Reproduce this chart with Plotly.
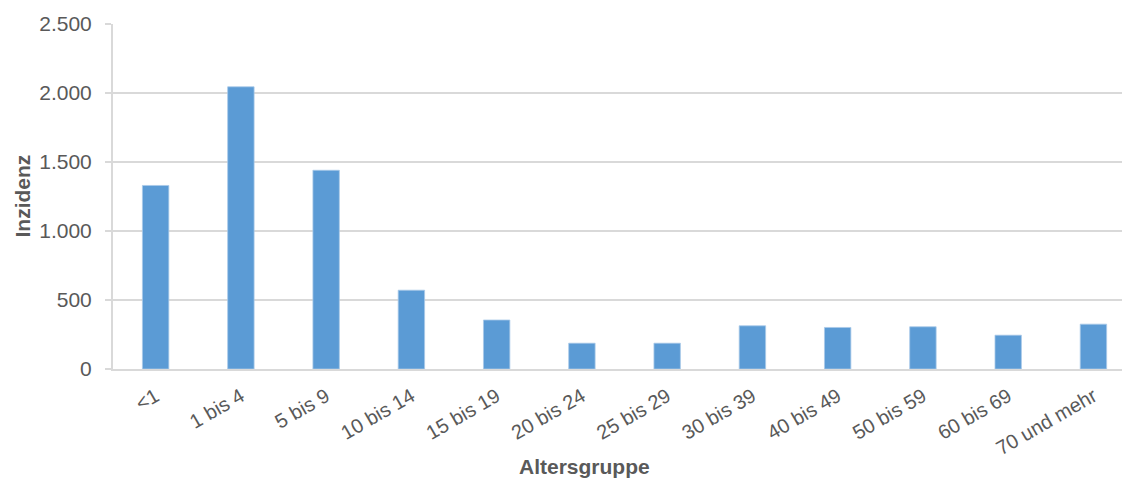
import plotly.graph_objects as go

# Altersgruppen und Inzidenz je Gruppe
altersgruppen = ["<1", "1 bis 4", "5 bis 9", "10 bis 14", "15 bis 19", "20 bis 24",
                 "25 bis 29", "30 bis 39", "40 bis 49", "50 bis 59", "60 bis 69", "70 und mehr"]
inzidenz = [1330, 2045, 1440, 571, 355, 187, 187, 313, 301, 306, 245, 325]
y_ticks = [0, 500, 1000, 1500, 2000, 2500]

text_grey = "#595959"
grid_grey = "#d9d9d9"
font_family = "Liberation Sans, Arial, sans-serif"

fig = go.Figure(
    go.Bar(
        x=altersgruppen,
        y=inzidenz,
        marker=dict(color="#5b9bd5", line=dict(color="#a9c9e8", width=0.8)),
    )
)

fig.update_layout(
    width=1124,
    height=481,
    margin=dict(l=113, r=2, t=24, b=112),
    plot_bgcolor="white",
    paper_bgcolor="white",
    separators=",.",
    bargap=0.69,
    showlegend=False,
    font=dict(family=font_family, color=text_grey),
)

fig.update_yaxes(
    range=[0, 2500],
    tickvals=y_ticks,
    tickformat=",d",
    tickfont=dict(size=21, color=text_grey),
    ticklabelstandoff=9,
    showgrid=True,
    gridcolor=grid_grey,
    gridwidth=1.5,
    showline=True,
    linecolor=grid_grey,
    linewidth=2,
    ticks="outside",
    ticklen=6,
    tickcolor=grid_grey,
    tickwidth=1.5,
    zeroline=False,
)

# Kategorienachse: rechter Rand endet kurz nach der letzten Gruppe
fig.update_xaxes(
    range=[-0.5, 11.335],
    tickangle=-30,
    tickfont=dict(size=20, color=text_grey),
    ticklabelstandoff=6,
    showline=True,
    linecolor=grid_grey,
    linewidth=2,
    ticks="",
)

# Achsentitel
fig.add_annotation(
    text="<b>Altersgruppe</b>", xref="paper", yref="paper",
    x=(584 - 113) / (1122 - 113), y=-(466 - 369) / (369 - 24),
    xanchor="center", yanchor="middle", showarrow=False,
    font=dict(size=21, color=text_grey, family=font_family),
)
fig.add_annotation(
    text="<b>Inzidenz</b>", xref="paper", yref="paper",
    x=-(113 - 22) / (1122 - 113), y=0.5, textangle=-90,
    xanchor="center", yanchor="middle", showarrow=False,
    font=dict(size=21, color=text_grey, family=font_family),
)

fig.write_html("out.html")
